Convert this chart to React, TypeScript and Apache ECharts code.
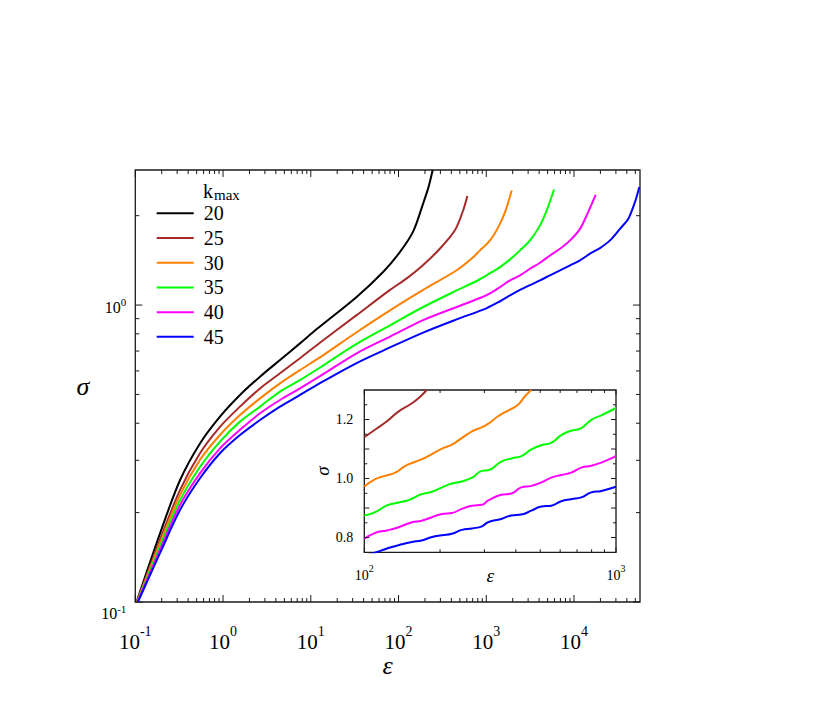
import React, { useEffect, useRef } from 'react';
import * as echarts from 'echarts';

const FONT = 'Liberation Serif';
const INK = '#1a1a1a';

const seriesNames = ['20', '25', '30', '35', '40', '45'];
const seriesColors = ['#000000', '#a52a2a', '#ff8000', '#00ff00', '#ff00ff', '#0000ff'];

// main plot: [epsilon, sigma]
const main20: number[][] = [[0.1035, 0.1], [0.191, 0.17], [0.323, 0.257], [0.546, 0.342], [0.923, 0.421], [1.56, 0.498], [2.64, 0.574], [4.46, 0.653], [7.53, 0.743], [11.7, 0.83], [33.3, 1.065], [67.1, 1.295], [104, 1.51], [147, 1.77], [191, 2.2], [220, 2.5], [245, 2.85]];
const main25: number[][] = [[0.104, 0.1], [0.191, 0.162], [0.323, 0.238], [0.546, 0.317], [0.923, 0.389], [1.56, 0.455], [2.64, 0.524], [4.46, 0.589], [7.53, 0.662], [12.6, 0.745], [33.3, 0.925], [80, 1.125], [124, 1.23], [191, 1.365], [297, 1.55], [441, 1.79], [547, 2.09], [608, 2.33]];
const main30: number[][] = [[0.105, 0.1], [0.191, 0.158], [0.323, 0.229], [0.546, 0.301], [0.923, 0.365], [1.56, 0.426], [2.64, 0.485], [4.46, 0.545], [7.53, 0.604], [12.6, 0.665], [33.3, 0.81], [80, 0.96], [191, 1.125], [460, 1.31], [711, 1.45], [849, 1.528], [1104, 1.651], [1372, 1.83], [1636, 2.056], [1950, 2.43]];
const main35: number[][] = [[0.1055, 0.1], [0.191, 0.154], [0.323, 0.22], [0.546, 0.285], [0.923, 0.347], [1.56, 0.405], [2.64, 0.455], [4.46, 0.511], [7.53, 0.559], [12.6, 0.615], [33.3, 0.74], [80, 0.855], [191, 0.985], [460, 1.12], [778, 1.205], [1104, 1.28], [1436, 1.342], [1866, 1.425], [2427, 1.528], [3155, 1.651], [4100, 1.855], [4885, 2.083], [5920, 2.45]];
const main40: number[][] = [[0.106, 0.1], [0.191, 0.15], [0.323, 0.212], [0.546, 0.271], [0.923, 0.329], [1.56, 0.38], [2.64, 0.432], [4.46, 0.479], [7.53, 0.524], [12.6, 0.575], [33.3, 0.688], [80, 0.783], [191, 0.89], [460, 0.985], [849, 1.056], [1104, 1.095], [1436, 1.15], [1866, 1.211], [2427, 1.259], [3155, 1.325], [4100, 1.388], [5320, 1.469], [6930, 1.548], [9020, 1.651], [11700, 1.806], [13950, 2.005], [17650, 2.35]];
const main45: number[][] = [[0.107, 0.1], [0.191, 0.146], [0.323, 0.204], [0.546, 0.261], [0.923, 0.317], [1.56, 0.365], [2.64, 0.41], [4.46, 0.455], [7.53, 0.498], [12.6, 0.545], [33.3, 0.638], [80, 0.72], [191, 0.808], [460, 0.895], [1000, 0.975], [1436, 1.03], [1866, 1.078], [2427, 1.125], [3155, 1.168], [4100, 1.211], [5320, 1.259], [6930, 1.308], [9020, 1.36], [11700, 1.414], [15200, 1.489], [19770, 1.556], [25700, 1.651], [33400, 1.806], [41600, 1.953], [49500, 2.223], [55500, 2.5]];

// inset: [epsilon, sigma]
const inset25: number[][] = [[100, 1.14], [110.6, 1.166], [123, 1.194], [137, 1.2275], [154.7, 1.255], [167, 1.278], [177, 1.3]];
const inset30: number[][] = [[100, 0.973], [110.6, 0.998], [121, 1.009], [132.8, 1.02], [145.6, 1.043], [159.6, 1.057], [174.8, 1.071], [203.6, 1.101], [222.8, 1.115], [244, 1.137], [268, 1.16], [293.6, 1.174], [310, 1.185], [340, 1.211], [372, 1.23], [408, 1.25], [434, 1.278], [461, 1.3]];
const inset35: number[][] = [[100, 0.875], [110.6, 0.886], [123, 0.909], [137, 0.919], [150, 0.927], [169, 0.947], [185.8, 0.955], [203.6, 0.97], [222.8, 0.983], [244, 0.99], [268, 1.003], [293.6, 1.026], [310, 1.028], [350, 1.057], [384, 1.068], [420.6, 1.076], [461, 1.0985], [505, 1.113], [553, 1.121], [606, 1.147], [664, 1.162], [728, 1.171], [798, 1.199], [874, 1.214], [1000, 1.239]];
const inset40: number[][] = [[100, 0.796], [110.6, 0.816], [123, 0.824], [137, 0.835], [154.7, 0.852], [169, 0.857], [185.8, 0.869], [203.6, 0.88], [222.8, 0.883], [244, 0.897], [268, 0.908], [293.6, 0.911], [310, 0.925], [350, 0.945], [384, 0.949], [420.6, 0.97], [461, 0.975], [505, 0.987], [553, 1.003], [606, 1.012], [664, 1.02], [728, 1.037], [798, 1.043], [874, 1.054], [1000, 1.076]];
const inset45: number[][] = [[100, 0.737], [115.8, 0.755], [128.8, 0.768], [141, 0.777], [154.7, 0.785], [169, 0.79], [185.8, 0.802], [203.6, 0.808], [222.8, 0.813], [244, 0.826], [268, 0.831], [293.6, 0.838], [310, 0.852], [350, 0.863], [384, 0.875], [420.6, 0.878], [461, 0.891], [505, 0.905], [553, 0.908], [606, 0.923], [664, 0.93], [728, 0.936], [798, 0.953], [874, 0.958], [1000, 0.972]];

const mainSeries = [main20, main25, main30, main35, main40, main45];
const insetSeries = [null, inset25, inset30, inset35, inset40, inset45];

// axis ranges and ticks
const mainX = { min: 0.1, max: 56500 };
const mainY = { min: 0.1, max: 2.85 };
const insetX = { min: 100, max: 1000 };
const insetY = { min: 0.75, max: 1.3 };
const mainXMajor = [0.1, 1, 10, 100, 1000, 10000];
const mainYMajor = [0.1, 1];
const insetXMajor = [100, 1000];
const insetYMajor = [0.8, 0.9, 1.0, 1.1, 1.2];
const insetYMinor = [0.85, 0.95, 1.05, 1.15, 1.25];

function logMinor(lo: number, hi: number): number[] {
  const out: number[] = [];
  for (let d = Math.floor(Math.log10(lo)); d <= Math.ceil(Math.log10(hi)); d++) {
    for (let k = 2; k <= 9; k++) {
      const v = k * Math.pow(10, d);
      if (v > lo && v < hi) out.push(v);
    }
  }
  return out;
}

function tickData(xr: any, yr: any, xMaj: number[], xMin: number[], yMaj: number[], yMin: number[]) {
  const d: number[][] = [];
  xMaj.forEach((v) => d.push([v, yr.min, 0]));
  xMin.forEach((v) => d.push([v, yr.min, 1]));
  yMaj.forEach((v) => d.push([xr.min, v, 2]));
  yMin.forEach((v) => d.push([xr.min, v, 3]));
  return d;
}

function tickSeries(idx: number, data: number[][], lMaj: number, lMin: number) {
  return {
    type: 'custom',
    name: 'ticks' + idx,
    xAxisIndex: idx,
    yAxisIndex: idx,
    silent: true,
    clip: false,
    z: 10,
    dimensions: ['x', 'y', 'k'],
    encode: { x: 0, y: 1 },
    data,
    renderItem: (params: any, api: any) => {
      const cs = params.coordSys;
      const kind = api.value(2);
      const p = api.coord([api.value(0), api.value(1)]);
      const style = { stroke: INK, lineWidth: 1 };
      if (kind < 2) {
        const L = kind === 0 ? lMaj : lMin;
        const x = p[0];
        return {
          type: 'group',
          children: [
            { type: 'line', shape: { x1: x, y1: cs.y + cs.height, x2: x, y2: cs.y + cs.height - L }, style },
            { type: 'line', shape: { x1: x, y1: cs.y, x2: x, y2: cs.y + L }, style },
          ],
        };
      }
      const L = kind === 2 ? lMaj : lMin;
      const y = p[1];
      return {
        type: 'group',
        children: [
          { type: 'line', shape: { x1: cs.x, y1: y, x2: cs.x + L, y2: y }, style },
          { type: 'line', shape: { x1: cs.x + cs.width, y1: y, x2: cs.x + cs.width - L, y2: y }, style },
        ],
      };
    },
  };
}

const txt = (size: number, extra: any = {}) => ({ fontSize: size, fontFamily: FONT, color: '#000', ...extra });

export default function App() {
  const ref = useRef<HTMLDivElement>(null);
  useEffect(() => {
    if (!ref.current) return;
    const chart = echarts.init(ref.current, null, { renderer: 'svg' });
    const series: any[] = [];
    mainSeries.forEach((d, i) => {
      series.push({
        type: 'line', name: seriesNames[i], xAxisIndex: 0, yAxisIndex: 0, data: d,
        showSymbol: false, symbol: 'none', smooth: 0.3, color: seriesColors[i],
        lineStyle: { width: 2, color: seriesColors[i] }, z: 3,
      });
    });
    insetSeries.forEach((d, i) => {
      if (!d) return;
      series.push({
        type: 'line', name: seriesNames[i], xAxisIndex: 1, yAxisIndex: 1, data: d,
        showSymbol: false, symbol: 'none', smooth: 0.5, color: seriesColors[i], clip: true,
        lineStyle: { width: 2, color: seriesColors[i] }, z: 4,
      });
    });
    series.push(tickSeries(0, tickData(mainX, mainY, mainXMajor, logMinor(mainX.min, mainX.max), mainYMajor, logMinor(mainY.min, mainY.max)), 7, 4));
    series.push(tickSeries(1, tickData(insetX, insetY, insetXMajor, logMinor(insetX.min, insetX.max), insetYMajor, insetYMinor), 5, 3));

    const expLabel = (v: number) => {
      const e = Math.round(Math.log10(v));
      return '{n|10}{s|' + e + '}';
    };

    chart.setOption({
      animation: false,
      textStyle: { fontFamily: FONT },
      grid: [
        { left: 135.3, top: 170, width: 504.7, height: 432, show: true, borderColor: INK, borderWidth: 1.3, backgroundColor: 'transparent', containLabel: false, outerBoundsMode: 'none' },
        { left: 364.3, top: 390, width: 251.7, height: 162.3, show: true, borderColor: INK, borderWidth: 1.3, backgroundColor: '#fff', containLabel: false, outerBoundsMode: 'none', z: 1 },
      ],
      xAxis: [
        {
          type: 'log', logBase: 10, gridIndex: 0, min: mainX.min, max: mainX.max,
          axisLine: { show: false }, axisTick: { show: false }, splitLine: { show: false }, minorTick: { show: false },
          axisLabel: {
            margin: 22, showMaxLabel: false, formatter: expLabel,
            rich: {
              n: txt(21, { lineHeight: 21, verticalAlign: 'top', padding: [7.5, 0, 0, 0] }),
              s: txt(14, { lineHeight: 14, verticalAlign: 'top' }),
            },
          },
          name: 'ε', nameLocation: 'middle', nameGap: 50, nameMoveOverlap: false,
          nameTextStyle: txt(26, { fontStyle: 'italic' }),
        },
        {
          type: 'log', logBase: 10, gridIndex: 1, min: insetX.min, max: insetX.max,
          axisLine: { show: false }, axisTick: { show: false }, splitLine: { show: false },
          axisLabel: {
            margin: 10.7, showMaxLabel: true, showMinLabel: true, formatter: expLabel,
            rich: {
              n: txt(14, { lineHeight: 14, verticalAlign: 'top', padding: [5, 0, 0, 0] }),
              s: txt(10, { lineHeight: 10, verticalAlign: 'top' }),
            },
          },
          name: 'ε', nameLocation: 'middle', nameGap: 14, nameMoveOverlap: false,
          nameTextStyle: txt(19, { fontStyle: 'italic' }),
        },
      ],
      yAxis: [
        {
          type: 'log', logBase: 10, gridIndex: 0, min: mainY.min, max: mainY.max,
          axisLine: { show: false }, axisTick: { show: false }, splitLine: { show: false },
          axisLabel: {
            margin: 9, showMaxLabel: false,
            formatter: (v: number) => {
              const e = Math.round(Math.log10(v));
              return e < 0 ? '{n2|10}{s2|' + e + '}' : '{n|10}{s|' + e + '}';
            },
            rich: {
              n: txt(16, { lineHeight: 20, verticalAlign: 'top', padding: [4, 0, 0, 0] }),
              s: txt(11, { lineHeight: 10, verticalAlign: 'top', padding: [1, 0, 0, 0] }),
              n2: txt(16, { lineHeight: 20, verticalAlign: 'top', padding: [13, 0, 0, 0] }),
              s2: txt(11, { lineHeight: 10, verticalAlign: 'top', padding: [11.5, 0, 0, 0] }),
            },
          },
          name: 'σ', nameLocation: 'middle', nameRotate: 0, nameGap: 46, nameMoveOverlap: false,
          nameTextStyle: txt(26, { fontStyle: 'italic' }),
        },
        {
          type: 'value', gridIndex: 1, min: insetY.min, max: insetY.max, splitNumber: 5,
          axisLine: { show: false }, axisTick: { show: false }, splitLine: { show: false },
          axisLabel: {
            margin: 11, fontSize: 14, fontFamily: FONT, color: '#000',
            formatter: (v: number) => {
              const t = Math.round(v * 10);
              if (Math.abs(v * 10 - t) > 1e-6) return '';
              if (t % 2 !== 0) return '';
              if (v < 0.79 || v > 1.21) return '';
              return v.toFixed(1);
            },
          },
          name: 'σ', nameLocation: 'middle', nameRotate: 90, nameGap: 32, nameMoveOverlap: false,
          nameTextStyle: txt(19, { fontStyle: 'italic' }),
        },
      ],
      legend: {
        data: seriesNames, orient: 'vertical', left: 156.7, top: 201, padding: 0, itemGap: 0,
        itemWidth: 37, itemHeight: 2, icon: 'rect', selectedMode: false,
        textStyle: txt(20, { lineHeight: 24.7, padding: [0, 0, 0, 5] }),
      },
      graphic: [
        { type: 'text', left: 203, top: 180.5, style: { text: 'k', ...txt(20) } },
        { type: 'text', left: 214, top: 187, style: { text: 'max', ...txt(15) } },
      ],
      series,
    });
    return () => chart.dispose();
  }, []);
  return <div ref={ref} style={{ position: 'fixed', left: 0, top: 0, width: 826, height: 723, background: '#fff' }} />;
}
